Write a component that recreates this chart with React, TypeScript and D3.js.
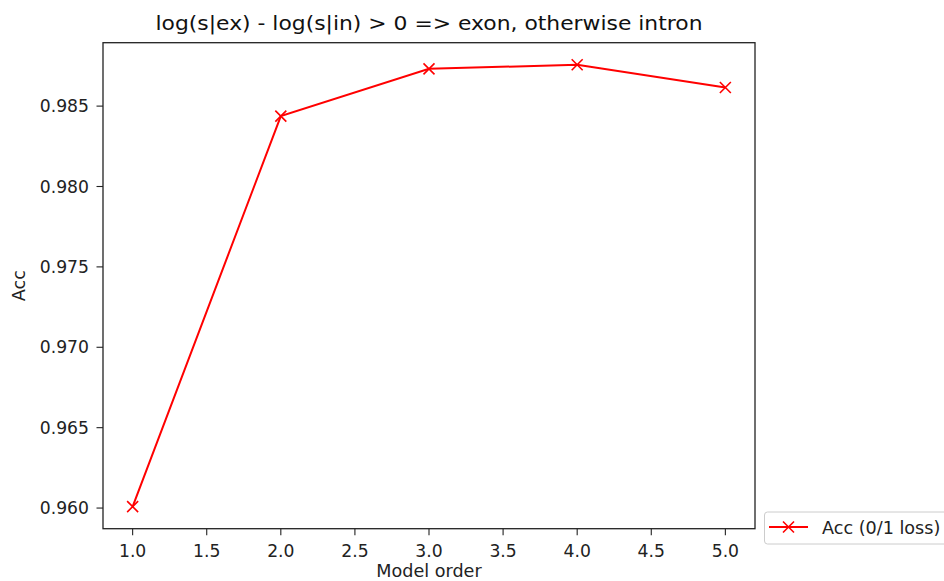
import React from "react";
import * as d3 from "d3";

const modelOrders = [1, 2, 3, 4, 5];
const accuracy = [0.96009, 0.98438, 0.98732, 0.98757, 0.98616];
const xTicks = [1.0, 1.5, 2.0, 2.5, 3.0, 3.5, 4.0, 4.5, 5.0];
const yTicks = [0.96, 0.965, 0.97, 0.975, 0.98, 0.985];
const titleText = "log(s|ex) - log(s|in) > 0 => exon, otherwise intron";
const seriesLabel = "Acc (0/1 loss)";

const W = 944;
const H = 581;
const left = 103;
const right = 755;
const top = 42.7;
const bottom = 528.7;
const font = "DejaVu Sans, sans-serif";
const tickFs = 17.2;
const labelFs = 17.6;

export default function App() {
  const x = d3.scaleLinear().domain([0.8, 5.2]).range([left, right]);
  const yMin = d3.min(accuracy)!;
  const yMax = d3.max(accuracy)!;
  const pad = (yMax - yMin) * 0.05;
  const y = d3.scaleLinear().domain([yMin - pad, yMax + pad]).range([bottom, top]);
  const line = d3
    .line<number>()
    .x((_, i) => x(modelOrders[i]))
    .y((d) => y(d));
  const m = 5.5;
  const cross = (cx: number, cy: number, k: number) => (
    <path
      key={k}
      d={`M${cx - m},${cy - m}L${cx + m},${cy + m}M${cx - m},${cy + m}L${cx + m},${cy - m}`}
      stroke="red"
      strokeWidth={1.6}
      fill="none"
    />
  );
  return (
    <svg
      width={W}
      height={H}
      style={{ position: "absolute", left: 0, top: 0, background: "#fff" }}
      fontFamily={font}
    >
      <text
        x={(left + right) / 2}
        y={30}
        textAnchor="middle"
        fontSize={19.5}
        fill="#111"
        textLength={547}
        lengthAdjust="spacingAndGlyphs"
      >
        {titleText}
      </text>
      {yTicks.map((t) => (
        <g key={t} transform={`translate(${left},${y(t)})`}>
          <line x1={-6.5} x2={0} stroke="#222" strokeWidth={1.1} />
          <text x={-14} dy="0.36em" textAnchor="end" fontSize={tickFs} fill="#222">
            {t.toFixed(3)}
          </text>
        </g>
      ))}
      {xTicks.map((t) => (
        <g key={t} transform={`translate(${x(t)},${bottom})`}>
          <line y1={0} y2={6.5} stroke="#222" strokeWidth={1.1} />
          <text y={28} textAnchor="middle" fontSize={tickFs} fill="#222">
            {t.toFixed(1)}
          </text>
        </g>
      ))}
      <text
        transform={`translate(25,${(top + bottom) / 2}) rotate(-90)`}
        textAnchor="middle"
        fontSize={labelFs}
        fill="#222"
      >
        Acc
      </text>
      <text x={(left + right) / 2} y={577} textAnchor="middle" fontSize={labelFs} fill="#222">
        Model order
      </text>
      <path d={line(accuracy)!} stroke="red" strokeWidth={2} fill="none" />
      {accuracy.map((v, i) => cross(x(modelOrders[i]), y(v), i))}
      <rect
        x={left}
        y={top}
        width={right - left}
        height={bottom - top}
        fill="none"
        stroke="#222"
        strokeWidth={1.3}
      />
      <g>
        <rect x={764.5} y={512} width={200} height={32} rx={3} fill="#fff" stroke="#ccc" />
        <line x1={769} x2={808} y1={527} y2={527} stroke="red" strokeWidth={2} />
        {cross(788.5, 527, 99)}
        <text x={822} y={533.5} fontSize={labelFs} fill="#222">
          {seriesLabel}
        </text>
      </g>
    </svg>
  );
}
